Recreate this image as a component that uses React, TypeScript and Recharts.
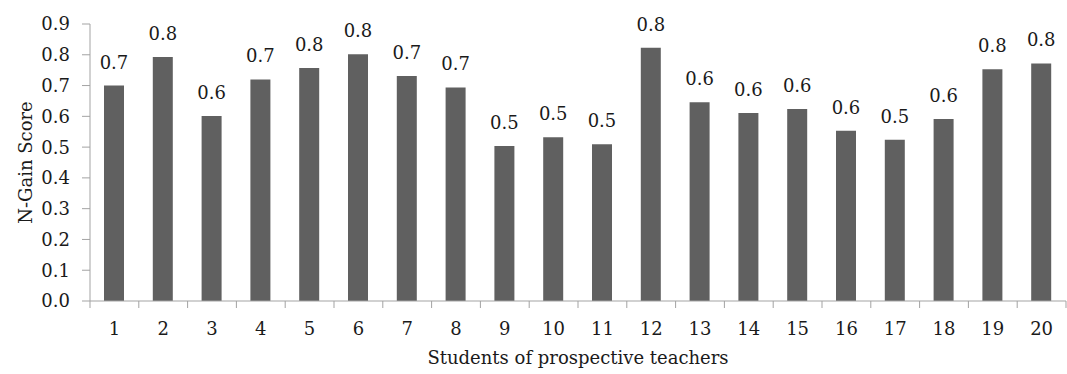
import React from 'react';
import { BarChart, Bar, XAxis, YAxis, LabelList, Label } from 'recharts';

const students = ['1', '2', '3', '4', '5', '6', '7', '8', '9', '10', '11', '12', '13', '14', '15', '16', '17', '18', '19', '20'];
const nGain = [0.70, 0.793, 0.601, 0.72, 0.757, 0.802, 0.731, 0.694, 0.504, 0.532, 0.509, 0.823, 0.646, 0.611, 0.624, 0.553, 0.524, 0.591, 0.753, 0.772];
const yTicks = [0, 0.1, 0.2, 0.3, 0.4, 0.5, 0.6, 0.7, 0.8, 0.9];

const data = students.map((s, i) => ({ student: s, score: nGain[i] }));

const W = 1067;
const H = 374;
const LEFT = 90;
const RIGHT = 1;
const FONT = '"DejaVu Serif", serif';
const AXIS = '#a3a3a3';
const TEXT = '#1a1a1a';
const FS = 18;

// category width, used to put tick marks on the band edges
const band = (W - LEFT - RIGHT) / students.length;

function StudentTick(props: any) {
  const { x, y, payload, index } = props;
  const last = index === students.length - 1;
  return (
    <g>
      <line x1={x - band / 2} x2={x - band / 2} y1={y} y2={y + 7} stroke={AXIS} />
      {last && <line x1={x + band / 2} x2={x + band / 2} y1={y} y2={y + 7} stroke={AXIS} />}
      <text x={x} y={y + 34} textAnchor="middle" fontFamily={FONT} fontSize={FS} fill={TEXT}>
        {payload.value}
      </text>
    </g>
  );
}

function YTitle(props: any) {
  const vb = props.viewBox;
  const cx = 32;
  const cy = vb.y + vb.height / 2;
  return (
    <text
      x={cx}
      y={cy}
      transform={`rotate(-90 ${cx} ${cy})`}
      textAnchor="middle"
      fontFamily={FONT}
      fontSize={FS}
      fill={TEXT}
    >
      N-Gain Score
    </text>
  );
}

export default function App() {
  return (
    <div style={{ position: 'fixed', left: 0, top: 0, width: W, height: H, background: '#fff' }}>
      <BarChart width={W} height={H} data={data} margin={{ top: 24, right: RIGHT, bottom: 0, left: 0 }}>
        <XAxis
          dataKey="student"
          height={73}
          stroke={AXIS}
          tickLine={false}
          tickSize={0}
          tickMargin={0}
          interval={0}
          tick={<StudentTick />}
        >
          <Label
            value="Students of prospective teachers"
            position="insideBottom"
            offset={10}
            fontFamily={FONT}
            fontSize={FS}
            fill={TEXT}
          />
        </XAxis>
        <YAxis
          width={LEFT}
          domain={[0, 0.9]}
          ticks={yTicks}
          interval={0}
          stroke={AXIS}
          tickSize={8}
          tickMargin={12}
          tickFormatter={(v: number) => v.toFixed(1)}
          tick={{ fontFamily: FONT, fontSize: FS, fill: TEXT }}
        >
          <Label content={<YTitle />} />
        </YAxis>
        <Bar dataKey="score" fill="#606060" barSize={20} isAnimationActive={false}>
          <LabelList
            dataKey="score"
            position="top"
            offset={17}
            formatter={(v: any) => Number(v).toFixed(1)}
            fontFamily={FONT}
            fontSize={FS}
            fill={TEXT}
          />
        </Bar>
      </BarChart>
    </div>
  );
}
